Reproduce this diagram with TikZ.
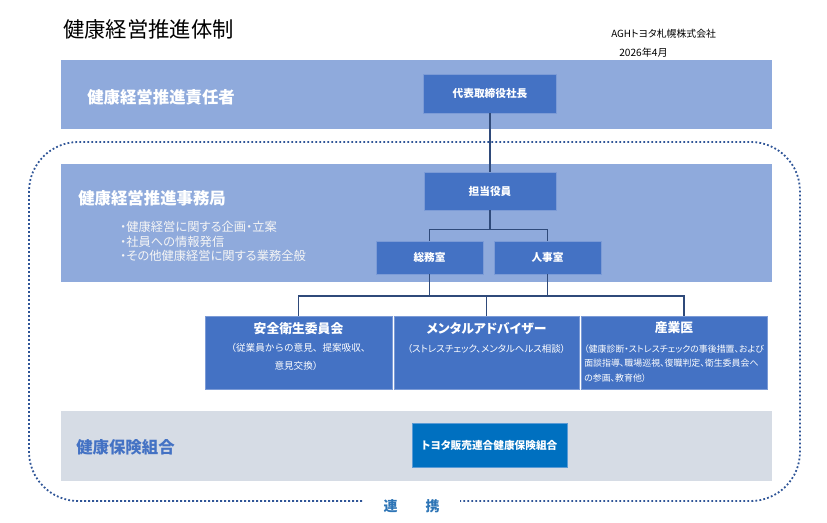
\documentclass[tikz,border=0pt]{standalone}
\usepackage{fontspec}
\setmainfont{Noto Sans CJK JP}
\newfontfamily\cond{Noto Sans CJK JP}[CharacterWidth=AlternateProportional]
\newcommand\fsz[2]{\fontsize{#1pt}{#2pt}\selectfont}
\definecolor{bandblue}{HTML}{8FAADC}
\definecolor{boxblue}{HTML}{4472C4}
\definecolor{boxedge}{HTML}{7C9BD6}
\definecolor{bandgrey}{HTML}{D6DCE5}
\definecolor{linecol}{HTML}{2F4A7A}
\definecolor{dotcol}{HTML}{2F5597}
\definecolor{renkeicol}{HTML}{2E75B6}
\definecolor{toyotablue}{HTML}{0070C0}
\definecolor{toyotaedge}{HTML}{5B9BD5}
\begin{document}
\begin{tikzpicture}[x=0.75pt,y=-0.75pt,
  band/.style={fill=bandblue, draw=none, inner sep=0pt, anchor=north west},
  box/.style={fill=boxblue, draw=boxedge, line width=0.5pt, text=white, inner sep=0pt, font=\cond\bfseries\fsz{8}{9.6}},
  conn/.style={draw=linecol, line width=1pt},
  dotl/.style={draw=dotcol, line width=1.35pt, dash pattern=on 1.35pt off 1.65pt},
  txt/.style={inner sep=0pt, anchor=west},
  lbl/.style={txt, text=white, font=\bfseries\fsz{12.3}{14}},
  bul/.style={txt, text=white!96!black, font=\cond\fsz{9.2}{11}},
  stitle/.style={inner sep=0pt, text=white, font=\cond\bfseries\fsz{9.6}{11}},
  ssub/.style={inner sep=0pt, text=white, font=\fsz{7.2}{8.5}},
  ssubc/.style={inner sep=0pt, text=white, font=\cond\fsz{7.1}{8.5}},
  ssubs/.style={inner sep=0pt, anchor=west, text=white, font=\cond\fsz{6.7}{8}}
]
\useasboundingbox (0,0) rectangle (827,523);

% bands
\node[band, minimum width=711*0.75pt, minimum height=69*0.75pt] (band1) at (61,60) {};
\node[band, minimum width=711*0.75pt, minimum height=118*0.75pt] (band2) at (61,164) {};
\node[band, fill=bandgrey, minimum width=711*0.75pt, minimum height=70*0.75pt] (band3) at (61,411) {};

% dotted frame
\coordinate (dl) at (362,501);
\coordinate (dr) at (460,501);
\draw[dotl, rounded corners=37pt] (dl) -- (29,501) -- (29,142) -- (800,142) -- (800,501) -- (dr);
\node[inner sep=0pt, text=renkeicol, font=\bfseries\fsz{10.5}{12}] (renkei) at (411.5,506) {連\hspace{21pt}携};

% header texts
\node[txt, font=\fsz{16}{19}] (title) at (63,29) {健康経営推進体制};
\node[txt, font=\cond\fsz{7.4}{8.5}] (corp) at (611,34) {AGHトヨタ札幌株式会社};
\node[txt, font=\fsz{7.6}{8.5}] (date) at (619,53) {2026年4月};

% band labels
\node[lbl] (b1t) at (87,97) {健康経営推進責任者};
\node[lbl] (b2t) at (78,198) {健康経営推進事務局};
\node[lbl, text=boxblue] (b3t) at (76,447) {健康保険組合};
\node[bul] (bul1) at (120,227) {・健康経営に関する企画・立案};
\node[bul] (bul2) at (120,241.5) {・社員への情報発信};
\node[bul] (bul3) at (120,256) {・その他健康経営に関する業務全般};

% boxes
\node[box, minimum width=133*0.75pt, minimum height=39*0.75pt] (pres) at (490,93.5) {代表取締役社長};
\node[box, minimum width=132*0.75pt, minimum height=38*0.75pt] (tanto) at (490,191) {担当役員};
\node[box, minimum width=107*0.75pt, minimum height=33*0.75pt] (soumu) at (429.5,257.5) {総務室};
\node[box, minimum width=107*0.75pt, minimum height=33*0.75pt] (jinji) at (547.5,257.5) {人事室};
\node[box, minimum width=187*0.75pt, minimum height=73*0.75pt] (anzen) at (298.5,352.5) {};
\node[box, minimum width=185*0.75pt, minimum height=73*0.75pt] (mental) at (486.5,352.5) {};
\node[box, minimum width=186*0.75pt, minimum height=73*0.75pt] (sangyo) at (674,352.5) {};
\node[box, fill=toyotablue, draw=toyotaedge, minimum width=155*0.75pt, minimum height=44*0.75pt] (toyota) at (489.5,445) {トヨタ販売連合健康保険組合};

% box texts
\node[stitle] (anzenT) at (298.5,329) {安全衛生委員会};
\node[ssub] (anzenS1) at (298.5,348) {（従業員からの意見、提案吸収、};
\node[ssub] (anzenS2) at (298.5,366) {意見交換）};
\node[stitle] (mentalT) at (486.5,329) {メンタルアドバイザー};
\node[ssubc] (mentalS) at (486.5,349) {（ストレスチェック、メンタルヘルス相談）};
\node[stitle] (sangyoT) at (674,328) {産業医};
\node[ssubs] (sangyoS1) at (584,349) {（健康診断・ストレスチェックの事後措置、および};
\node[ssubs] (sangyoS2) at (584,363.5) {面談指導、職場巡視、復職判定、衛生委員会へ};
\node[ssubs] (sangyoS3) at (584,378) {の参画、教育他）};

% connectors
\draw[conn] (pres.south) -- (tanto.north);
\draw[conn] (tanto.south) -- ++(0,19.5) coordinate (j1);
\draw[conn] (soumu.north) |- (j1) -| (jinji.north);
\coordinate (hb) at (0,296);
\coordinate (sgtop) at (684,316);
\draw[conn] (soumu.south) -- (soumu.south |- hb);
\draw[conn] (jinji.south) -- (jinji.south |- hb);
\draw[conn] (anzen.north) |- (sgtop |- hb) -- (sgtop);
\draw[conn] (mental.north) -- (mental.north |- hb);
\end{tikzpicture}
\end{document}
